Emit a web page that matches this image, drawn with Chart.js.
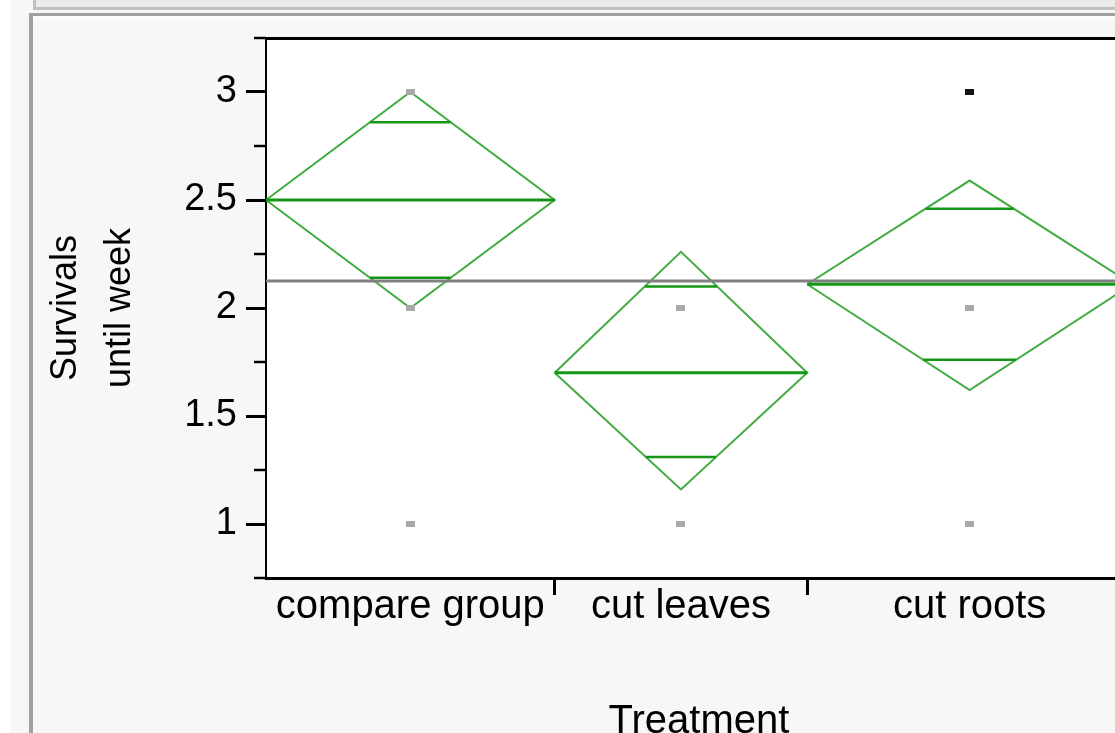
<!DOCTYPE html>
<html>
<head>
<meta charset="utf-8">
<title>Survivals until week by Treatment</title>
<script src="https://cdn.jsdelivr.net/npm/chart.js@4.4.1/dist/chart.umd.min.js"></script>
<style>
  html, body { margin: 0; padding: 0; width: 1115px; height: 733px; overflow: hidden; background: #ffffff; }
  #page { position: absolute; left: 10px; top: 0; width: 1200px; height: 800px; background: #f7f7f7; }
  #tabbar { position: absolute; left: 33px; top: -5px; width: 1200px; height: 12px; background: #ebebeb;
            border-left: 3px solid #c0c0c0; border-bottom: 3px solid #c0c0c0; }
  #frame { position: absolute; left: 29px; top: 13px; width: 1200px; height: 800px; background: #f7f7f7;
           border-left: 4px solid #a0a0a0; border-top: 3px solid #a0a0a0; }
  #frameHi { position: absolute; left: 33px; top: 16px; width: 1200px; height: 3px; background: #fcfcfc; }
  #wrap { position: absolute; left: 0; top: 0; width: 1160px; height: 760px; }
</style>
</head>
<body>
<div id="page"></div>
<div id="tabbar"></div>
<div id="frame"></div>
<div id="frameHi"></div>
<div id="wrap"><canvas id="chart"></canvas></div>
<script>
// Treatment groups and their summary statistics (means diamonds)
const categories   = ['compare group', 'cut leaves', 'cut roots'];
const groupSize    = [8, 7, 9];
const groupMean    = [2.5, 1.70, 2.11];
const ciLower      = [2.0, 1.16, 1.62];
const ciUpper      = [3.0, 2.26, 2.59];
const overlapLower = [2.14, 1.31, 1.76];
const overlapUpper = [2.86, 2.10, 2.46];
const grandMean    = 2.125;

// Individual observations (distinct values per group)
const obsGroup       = [0, 0, 0, 1, 1, 2, 2, 2];
const obsValue       = [3, 2, 1, 2, 1, 3, 2, 1];
const obsHighlighted = [false, false, false, false, false, true, false, false];

// Axis ticks
const yTickValues = [1, 1.5, 2, 2.5, 3];
const yMinorStep  = 0.25;
const yRange      = [0.75, 3.25];

// Group extents along the x axis, width proportional to group size
const edges = [0];
groupSize.forEach(n => edges.push(edges[edges.length - 1] + n));
const centers = categories.map((_, i) => (edges[i] + edges[i + 1]) / 2);
const innerEdges = edges.slice(1, -1);

const DIAMOND = 'rgb(66,172,66)';
const MEANLINE = 'rgb(22,150,22)';

// Half width of a diamond at a given y inside group i
function diamondHalfWidth(i, y) {
  const half = (edges[i + 1] - edges[i]) / 2;
  const tip = y >= groupMean[i] ? ciUpper[i] : ciLower[i];
  return half * (1 - Math.abs(y - groupMean[i]) / Math.abs(tip - groupMean[i]));
}

const datasets = [];

// observation marks
function markCanvas(color) {
  const c = document.createElement('canvas');
  c.width = 9; c.height = 6;
  const g = c.getContext('2d');
  g.fillStyle = color;
  g.fillRect(0, 0, 9, 6);
  return c;
}
const grayMark = markCanvas('#a9a9a9');
const blackMark = markCanvas('#141414');
datasets.push({
  type: 'scatter',
  order: 0,
  data: obsValue.map((v, k) => ({ x: centers[obsGroup[k]], y: v })),
  pointStyle: ctx => obsHighlighted[ctx.dataIndex] ? blackMark : grayMark,
  pointRadius: 4,
  showLine: false
});

// mean lines and overlap marks
categories.forEach((_, i) => {
  datasets.push({
    type: 'line', order: 1,
    data: [{ x: edges[i], y: groupMean[i] }, { x: edges[i + 1], y: groupMean[i] }],
    borderColor: MEANLINE, borderWidth: 3, pointRadius: 0, fill: false
  });
  [overlapUpper[i], overlapLower[i]].forEach(y => {
    const hw = diamondHalfWidth(i, y);
    datasets.push({
      type: 'line', order: 1,
      data: [{ x: centers[i] - hw, y: y }, { x: centers[i] + hw, y: y }],
      borderColor: MEANLINE, borderWidth: 2.5, pointRadius: 0, fill: false
    });
  });
});

// grand mean reference line
datasets.push({
  type: 'line', order: 2,
  data: [{ x: edges[0], y: grandMean }, { x: edges[edges.length - 1], y: grandMean }],
  borderColor: 'rgb(128,128,128)', borderWidth: 3, pointRadius: 0, fill: false
});

// diamonds
categories.forEach((_, i) => {
  datasets.push({
    type: 'line', order: 3,
    data: [
      { x: edges[i], y: groupMean[i] },
      { x: centers[i], y: ciUpper[i] },
      { x: edges[i + 1], y: groupMean[i] },
      { x: centers[i], y: ciLower[i] },
      { x: edges[i], y: groupMean[i] }
    ],
    borderColor: DIAMOND, borderWidth: 2, pointRadius: 0, fill: false, tension: 0
  });
});

// white plot background, top frame line and minor y ticks
const framePlugin = {
  id: 'frame',
  beforeDraw(chart) {
    const { ctx, chartArea: a } = chart;
    ctx.save();
    ctx.fillStyle = '#ffffff';
    ctx.fillRect(a.left, a.top, a.right - a.left, a.bottom - a.top);
    ctx.restore();
  },
  afterDraw(chart) {
    const { ctx, chartArea: a, scales } = chart;
    const ys = scales.y;
    ctx.save();
    ctx.strokeStyle = '#000000';
    ctx.lineWidth = 3;
    ctx.beginPath();
    ctx.moveTo(a.left, a.top + 0.5);
    ctx.lineTo(a.right, a.top + 0.5);
    ctx.stroke();
    ctx.lineWidth = 2.5;
    for (let v = yRange[0]; v <= yRange[1] + 1e-9; v += yMinorStep) {
      if (yTickValues.some(t => Math.abs(t - v) < 1e-9)) continue;
      const py = Math.round(ys.getPixelForValue(v));
      ctx.beginPath();
      ctx.moveTo(a.left - 12, py);
      ctx.lineTo(a.left, py);
      ctx.stroke();
    }
    ctx.restore();
  }
};

const FONT = 'Liberation Sans, Arial, sans-serif';

new Chart(document.getElementById('chart'), {
  type: 'scatter',
  data: { datasets },
  plugins: [framePlugin],
  options: {
    responsive: true,
    maintainAspectRatio: false,
    animation: false,
    events: [],
    layout: { padding: { top: 38, right: 28, left: 0, bottom: 0 } },
    plugins: { legend: { display: false }, tooltip: { enabled: false } },
    scales: {
      x: {
        type: 'linear',
        min: edges[0],
        max: edges[edges.length - 1],
        afterFit: s => { s.height = 182; },
        afterBuildTicks: s => {
          s.ticks = [...centers, ...innerEdges].sort((a, b) => a - b).map(v => ({ value: v }));
        },
        ticks: {
          autoSkip: false, maxRotation: 0, minRotation: 0,
          padding: -12,
          color: '#000000',
          font: { family: FONT, size: 40 },
          callback: v => {
            const i = centers.indexOf(v);
            return i >= 0 ? categories[i] : '';
          }
        },
        grid: {
          drawOnChartArea: false,
          drawTicks: true,
          tickLength: 17,
          tickWidth: 3,
          tickColor: ctx => (ctx.tick && centers.indexOf(ctx.tick.value) >= 0) ? 'rgba(0,0,0,0)' : '#000000'
        },
        border: { display: true, color: '#000000', width: 3 },
        title: {
          display: true, text: 'Treatment', color: '#000000',
          font: { family: FONT, size: 40, lineHeight: 1.2 },
          padding: { top: 0, bottom: 14 }
        }
      },
      y: {
        type: 'linear',
        min: yRange[0],
        max: yRange[1],
        afterFit: s => { s.width = 266; },
        afterBuildTicks: s => { s.ticks = yTickValues.map(v => ({ value: v })); },
        ticks: {
          padding: 9,
          color: '#000000',
          font: { family: FONT, size: 38 },
          callback: v => String(v)
        },
        grid: {
          drawOnChartArea: false,
          drawTicks: true,
          tickLength: 20,
          tickWidth: 3,
          tickColor: '#000000'
        },
        border: { display: true, color: '#000000', width: 2 },
        title: {
          display: true, text: ['Survivals', 'until week'], color: '#000000',
          font: { family: FONT, size: 36, lineHeight: 1.5 },
          padding: { top: 39, bottom: 0 }
        }
      }
    }
  }
});
</script>
</body>
</html>
